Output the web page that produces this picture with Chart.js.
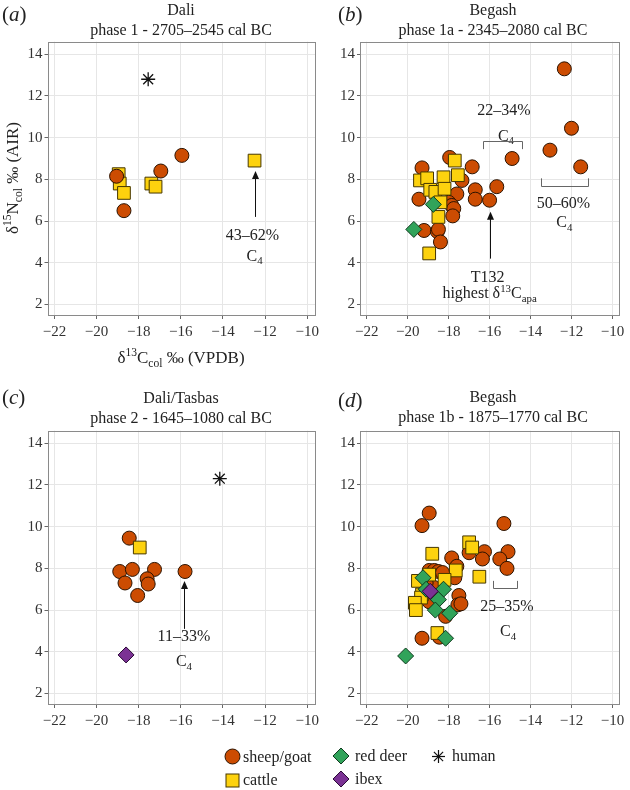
<!DOCTYPE html>
<html>
<head>
<meta charset="utf-8">
<script src="https://cdn.jsdelivr.net/npm/chart.js@4.4.1/dist/chart.umd.min.js"></script>
<style>
body { margin: 0; background: #fff; }
#wrap { position: relative; width: 630px; height: 790px; font-family: 'Liberation Serif', 'Times New Roman', serif; color: #222; }
#wrap canvas { position: absolute; left: 0; top: 0; }
.t { position: absolute; width: 300px; text-align: center; white-space: nowrap; font-size: 16px; line-height: 20px; }
.lt { position: absolute; font-size: 21px; line-height: 24px; }
.ax { position: absolute; width: 240px; text-align: center; white-space: nowrap; font-size: 17px; line-height: 22px; }
.leg { position: absolute; font-size: 16px; line-height: 20px; white-space: nowrap; }
.sym { position: absolute; }
sup, sub { font-size: 68%; line-height: 0; }
</style>
</head>
<body>
<div id="wrap">
  <canvas id="pa" width="630" height="790"></canvas>
  <canvas id="pb" width="630" height="790"></canvas>
  <canvas id="pc" width="630" height="790"></canvas>
  <canvas id="pd" width="630" height="790"></canvas>

  <div class="lt" style="left:2px;top:2px">(<i>a</i>)</div>
  <div class="t" style="left:31px;top:0px">Dali</div>
  <div class="t" style="left:31px;top:20px">phase 1 - 2705–2545 cal BC</div>

  <div class="lt" style="left:338px;top:2px">(<i>b</i>)</div>
  <div class="t" style="left:343px;top:0px">Begash</div>
  <div class="t" style="left:343px;top:20px">phase 1a - 2345–2080 cal BC</div>

  <div class="lt" style="left:2px;top:385px">(<i>c</i>)</div>
  <div class="t" style="left:31px;top:388px">Dali/Tasbas</div>
  <div class="t" style="left:31px;top:408px">phase 2 - 1645–1080 cal BC</div>

  <div class="lt" style="left:338px;top:388px">(<i>d</i>)</div>
  <div class="t" style="left:343px;top:387px">Begash</div>
  <div class="t" style="left:343px;top:407px">phase 1b - 1875–1770 cal BC</div>

  <div class="ax" style="left:61px;top:347px">δ<sup>13</sup>C<sub>col</sub> ‰ (VPDB)</div>
  <div class="ax" style="left:-107px;top:167px;transform:rotate(-90deg)">δ<sup>15</sup>N<sub>col</sub> ‰ (AIR)</div>

  <svg class="sym" style="left:224px;top:748px" width="17" height="17"><circle cx="8.5" cy="8.5" r="7.5" fill="#cc4c02" stroke="#2b1300" stroke-width="1"/></svg>
  <div class="leg" style="left:243px;top:747px">sheep/goat</div>
  <svg class="sym" style="left:225px;top:773px" width="15" height="15"><rect x="1" y="1" width="13" height="13" fill="#fdd20e" stroke="#463700" stroke-width="1"/></svg>
  <div class="leg" style="left:243px;top:770px">cattle</div>
  <svg class="sym" style="left:332px;top:747px" width="18" height="18"><polygon points="1,9 9,1 17,9 9,17" fill="#31a35a" stroke="#0f3a1e" stroke-width="1"/></svg>
  <div class="leg" style="left:355px;top:746px">red deer</div>
  <svg class="sym" style="left:332px;top:770px" width="18" height="18"><polygon points="1,9 9,1 17,9 9,17" fill="#7b3294" stroke="#2a0a36" stroke-width="1"/></svg>
  <div class="leg" style="left:355px;top:769px">ibex</div>
  <svg class="sym" style="left:431px;top:749px" width="15" height="15"><g stroke="#111" stroke-width="1.2"><line x1="7.5" y1="1" x2="7.5" y2="14"/><line x1="1" y1="7.5" x2="14" y2="7.5"/><line x1="2.9" y1="2.9" x2="12.1" y2="12.1"/><line x1="2.9" y1="12.1" x2="12.1" y2="2.9"/></g></svg>
  <div class="leg" style="left:452px;top:746px">human</div>
</div>

<script>
// axis ranges and ticks
const xMin = -22.33, xMax = -9.63;
const yMin = 1.45, yMax = 14.6;
const xTicks = [-22, -20, -18, -16, -14, -12, -10];
const yTicks = [2, 4, 6, 8, 10, 12, 14];

// (a) Dali phase 1
const aSheep = [[-19.05, 8.15], [-18.7, 6.5], [-16.95, 8.4], [-15.95, 9.15]];
const aCattle = [[-18.95, 8.25], [-18.9, 7.8], [-18.7, 7.35], [-17.4, 7.8], [-17.2, 7.65], [-12.5, 8.9]];
const aHuman = [[-17.55, 12.8]];

// (b) Begash phase 1a
const bSheep = [[-12.35, 13.3], [-12.0, 10.45], [-13.05, 9.4], [-11.55, 8.6], [-14.9, 9.0], [-15.65, 7.65],
  [-16.0, 7.0], [-16.85, 8.6], [-16.7, 7.5], [-16.7, 7.05], [-17.95, 9.05], [-17.35, 7.95], [-17.6, 7.3],
  [-18.0, 6.9], [-17.85, 6.75], [-17.75, 6.6], [-17.8, 6.25], [-19.3, 8.55], [-19.45, 7.05], [-19.2, 5.55],
  [-18.55, 5.5], [-18.5, 5.6], [-18.4, 5.0]];
const bCattle = [[-17.7, 8.9], [-19.4, 7.95], [-19.05, 8.05], [-18.25, 8.1], [-17.55, 8.2], [-18.9, 7.5],
  [-18.65, 7.4], [-18.2, 7.55], [-18.4, 6.9], [-18.5, 6.2], [-18.95, 4.45]];
const bDeer = [[-18.75, 6.8], [-19.7, 5.6]];

// (c) Dali/Tasbas phase 2
const cSheep = [[-18.45, 9.45], [-18.9, 7.85], [-18.3, 7.95], [-17.25, 7.95], [-18.65, 7.3], [-17.6, 7.5],
  [-17.55, 7.25], [-18.05, 6.7], [-15.8, 7.85]];
const cCattle = [[-17.95, 9.0]];
const cIbex = [[-18.6, 3.85]];
const cHuman = [[-14.15, 12.3]];

// (d) Begash phase 1b
const dSheep = [[-18.95, 10.65], [-19.3, 10.05], [-15.3, 10.15], [-15.1, 8.8], [-15.5, 8.45], [-15.15, 8.0],
  [-16.25, 8.8], [-16.35, 8.45], [-17.0, 8.75], [-17.85, 8.5], [-17.6, 8.1], [-17.7, 7.55], [-17.5, 6.7],
  [-17.55, 6.25], [-17.4, 6.3], [-18.15, 5.7], [-19.3, 4.65], [-18.45, 4.7], [-18.95, 7.9], [-18.7, 7.9],
  [-18.5, 7.85], [-18.3, 7.8], [-18.75, 7.1], [-18.95, 6.4], [-18.6, 6.7], [-19.1, 7.3]];
const dCattle = [[-17.0, 9.25], [-16.85, 9.0], [-18.8, 8.7], [-17.65, 7.9], [-16.5, 7.6], [-18.95, 7.7],
  [-19.5, 7.4], [-18.2, 7.45], [-19.3, 6.75], [-19.35, 6.6], [-19.65, 6.35], [-19.6, 6.0], [-18.55, 4.9]];
const dDeer = [[-19.25, 7.55], [-19.1, 7.0], [-18.25, 7.0], [-18.5, 6.5], [-18.65, 6.0], [-17.95, 5.85],
  [-18.15, 4.65], [-20.1, 3.8]];
const dIbex = [[-18.9, 6.9]];

const FAM = "'Liberation Serif', 'Times New Roman', serif";
Chart.defaults.font.family = FAM;

const looks = {
  sheep: { pointStyle: 'circle', pointRadius: 7, pointBackgroundColor: '#cc4c02', pointBorderColor: '#2b1300' },
  cattle: { pointStyle: 'rect', pointRadius: 9, pointBackgroundColor: '#fdd20e', pointBorderColor: '#463700' },
  deer: { pointStyle: 'rectRot', pointRadius: 8, pointBackgroundColor: '#31a35a', pointBorderColor: '#0f3a1e' },
  ibex: { pointStyle: 'rectRot', pointRadius: 8, pointBackgroundColor: '#7b3294', pointBorderColor: '#2a0a36' },
  human: { pointStyle: 'star', pointRadius: 7, pointBackgroundColor: '#111', pointBorderColor: '#111', pointBorderWidth: 1.3 }
};

function ds(points, kind, order) {
  return Object.assign({
    data: points.map(p => ({ x: p[0], y: p[1] })),
    pointBorderWidth: 1,
    order: order
  }, looks[kind], { pointHoverRadius: looks[kind].pointRadius });
}

// text with ^{sup} and _{sub}
function drawRich(ctx, cx, cy, str, size) {
  const parts = [];
  let last = 0;
  str.replace(/([\^_])\{([^}]*)\}/g, (m, k, t, i) => {
    if (i > last) parts.push({ t: str.slice(last, i) });
    parts.push({ t: t, k: k });
    last = i + m.length;
  });
  if (last < str.length) parts.push({ t: str.slice(last) });
  let w = 0;
  parts.forEach(p => {
    p.fs = p.k ? size * 0.68 : size;
    ctx.font = p.fs + 'px ' + FAM;
    p.w = ctx.measureText(p.t).width;
    w += p.w;
  });
  let x = cx - w / 2;
  const base = cy + size * 0.33;
  ctx.textAlign = 'left';
  ctx.textBaseline = 'alphabetic';
  ctx.fillStyle = '#222';
  parts.forEach(p => {
    ctx.font = p.fs + 'px ' + FAM;
    const dy = p.k === '^' ? -size * 0.38 : (p.k === '_' ? size * 0.22 : 0);
    ctx.fillText(p.t, x, base + dy);
    x += p.w;
  });
}

function notes(items) {
  return {
    id: 'notes',
    afterDatasetsDraw(chart) {
      const ctx = chart.ctx, a = chart.chartArea;
      const sx = chart.scales.x, sy = chart.scales.y;
      ctx.save();
      items.forEach(n => {
        if (n.text) drawRich(ctx, sx.getPixelForValue(n.x), sy.getPixelForValue(n.y), n.text, 16);
        if (n.arrow) {
          const px = Math.round(sx.getPixelForValue(n.x)) + 0.5;
          const y0 = sy.getPixelForValue(n.arrow[0]), y1 = sy.getPixelForValue(n.arrow[1]);
          ctx.strokeStyle = '#111'; ctx.fillStyle = '#111'; ctx.lineWidth = 1;
          ctx.beginPath(); ctx.moveTo(px, y0); ctx.lineTo(px, y1 + 6); ctx.stroke();
          ctx.beginPath(); ctx.moveTo(px, y1); ctx.lineTo(px - 3.5, y1 + 8); ctx.lineTo(px + 3.5, y1 + 8); ctx.closePath(); ctx.fill();
        }
        if (n.bracket) {
          const [x0, x1, yl, ye] = n.bracket;
          const p0 = Math.round(sx.getPixelForValue(x0)) + 0.5, p1 = Math.round(sx.getPixelForValue(x1)) + 0.5;
          const py = Math.round(sy.getPixelForValue(yl)) + 0.5, pe = sy.getPixelForValue(ye);
          ctx.strokeStyle = '#666'; ctx.lineWidth = 1;
          ctx.beginPath(); ctx.moveTo(p0, pe); ctx.lineTo(p0, py); ctx.lineTo(p1, py); ctx.lineTo(p1, pe); ctx.stroke();
        }
      });
      ctx.strokeStyle = '#8a8a8a'; ctx.lineWidth = 1;
      ctx.strokeRect(Math.round(a.left) + 0.5, Math.round(a.top) + 0.5, Math.round(a.right - a.left) - 1, Math.round(a.bottom - a.top) - 1);
      ctx.restore();
    }
  };
}

function axis(min, max, ticks, isX) {
  return {
    type: 'linear', min: min, max: max,
    afterBuildTicks: s => { s.ticks = ticks.map(v => ({ value: v })); },
    afterFit: s => {
      if (isX) s.height = 30; else s.width = 40;
      s.paddingLeft = 0; s.paddingRight = 0; s.paddingTop = 0; s.paddingBottom = 0;
    },
    grid: { color: '#e6e6e6', lineWidth: 1, tickLength: 3, tickColor: '#666', drawTicks: true },
    border: { display: false },
    ticks: {
      font: { size: 15 }, color: '#333', padding: isX ? 4 : 2,
      callback: v => String(v).replace('-', '\u2212')
    }
  };
}

function panel(id, area, sets, items) {
  new Chart(document.getElementById(id), {
    type: 'scatter',
    data: { datasets: sets },
    options: {
      responsive: false, animation: false, events: [],
      layout: { padding: { left: area[0] - 40, top: area[1], right: 630 - area[2], bottom: 790 - area[3] - 30 } },
      plugins: { legend: { display: false }, tooltip: { enabled: false } },
      scales: { x: axis(xMin, xMax, xTicks, true), y: axis(yMin, yMax, yTicks, false) }
    },
    plugins: [notes(items)]
  });
}

panel('pa', [47.5, 41.7, 315, 316], [
  ds(aHuman, 'human', 0), ds(aSheep, 'sheep', 1), ds(aCattle, 'cattle', 2)
], [
  { x: -12.5, arrow: [6.2, 8.4] },
  { x: -12.6, y: 5.35, text: '43–62%' },
  { x: -12.5, y: 4.35, text: 'C_{4}' }
]);

panel('pb', [360, 41.7, 626, 316], [
  ds(bDeer, 'deer', 0), ds(bCattle, 'cattle', 1), ds(bSheep, 'sheep', 2)
], [
  { x: -15.3, y: 11.35, text: '22–34%' },
  { x: -15.2, y: 10.1, text: 'C_{4}' },
  { bracket: [-16.3, -14.4, 9.82, 9.45] },
  { x: -12.4, y: 6.9, text: '50–60%' },
  { x: -12.35, y: 5.95, text: 'C_{4}' },
  { bracket: [-13.5, -11.2, 7.7, 8.05] },
  { x: -16.0, arrow: [4.2, 6.45] },
  { x: -16.1, y: 3.35, text: 'T132' },
  { x: -16.0, y: 2.55, text: 'highest δ^{13}C_{apa}' }
]);

panel('pc', [47.5, 430.7, 315, 705], [
  ds(cHuman, 'human', 0), ds(cIbex, 'ibex', 1), ds(cCattle, 'cattle', 2), ds(cSheep, 'sheep', 3)
], [
  { x: -15.85, arrow: [5.1, 7.4] },
  { x: -15.85, y: 4.77, text: '11–33%' },
  { x: -15.85, y: 3.57, text: 'C_{4}' }
]);

panel('pd', [360, 430.7, 626, 705], [
  ds(dIbex, 'ibex', 0), ds(dDeer, 'deer', 1), ds(dCattle, 'cattle', 2), ds(dSheep, 'sheep', 3)
], [
  { bracket: [-15.85, -14.65, 7.05, 7.4] },
  { x: -15.15, y: 6.2, text: '25–35%' },
  { x: -15.1, y: 5.0, text: 'C_{4}' }
]);
</script>
</body>
</html>
